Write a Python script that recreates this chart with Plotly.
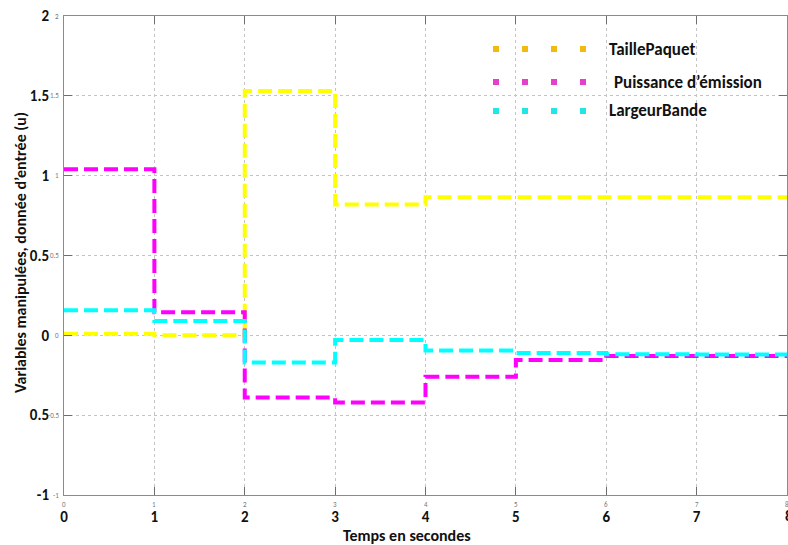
import plotly.graph_objects as go

# ---- data ----
time_s = [0, 1, 2, 3, 4, 5, 6, 7, 8]
taille_paquet = [0.01, 0.0, 1.53, 0.82, 0.865, 0.865, 0.865, 0.865]
puissance = [1.04, 0.145, -0.39, -0.42, -0.26, -0.155, -0.13, -0.13]
largeur_bande = [0.157, 0.09, -0.17, -0.03, -0.095, -0.11, -0.118, -0.12]

series_names = ["TaillePaquet", "Puissance d\u2019émission", "LargeurBande"]
line_colors = ["#ffff00", "#ff00ff", "#00ffff"]
legend_colors = ["#f2b90f", "#e63fc8", "#22e6e6"]

y_tickvals = [-1, -0.5, 0, 0.5, 1, 1.5, 2]
y_ticktext = ["-1", "0.5", "0", "0.5", "1", "1.5", "2"]
y_small_text = ["-1", "-0.5", "0", "0.5", "1", "1.5", "2"]
x_tickvals = [0, 1, 2, 3, 4, 5, 6, 7, 8]
x_ticktext = [str(v) for v in x_tickvals]

FONT = "Carlito, Lato, 'Liberation Sans', sans-serif"

W, H = 788, 545
L, R, T, B = 64, 1, 16, 50
pw, ph = W - L - R, H - T - B


def px_x(px):
    return (px - L) / pw


def px_y(py):
    return (H - B - py) / ph


fig = go.Figure()
for name, vals, col in zip(series_names, [taille_paquet, puissance, largeur_bande], line_colors):
    fig.add_trace(go.Scatter(
        x=time_s, y=vals + [vals[-1]], mode="lines", name=name,
        line=dict(color=col, width=4, dash="14px,6px", shape="hv"),
        showlegend=False,
    ))

axis_common = dict(
    showline=True, linecolor="#8a8a8a", linewidth=1, mirror="ticks",
    ticks="inside", ticklen=8, tickcolor="#6e6e6e", tickwidth=1,
    showgrid=True, gridcolor="#c4c4c4", griddash="dot", gridwidth=1,
    zeroline=False, automargin=False,
    tickfont=dict(family=FONT, size=15, color="#111111", weight="bold"),
)

fig.update_xaxes(range=[0, 8], tickmode="array", tickvals=x_tickvals, ticktext=x_ticktext,
                 ticklabelstandoff=8, **axis_common)
fig.update_yaxes(range=[-1, 2], tickmode="array", tickvals=y_tickvals, ticktext=y_ticktext,
                 ticklabelstandoff=11, **axis_common)

annotations = []
# tiny secondary tick labels
for v, t in zip(y_tickvals, y_small_text):
    annotations.append(dict(x=px_x(61), y=v, xref="paper", yref="y", text=t, showarrow=False,
                            xanchor="right", yanchor="middle",
                            font=dict(family=FONT, size=7, color="#777777")))
for v in x_tickvals:
    annotations.append(dict(x=v, y=px_y(498), xref="x", yref="paper", text=str(v), showarrow=False,
                            xanchor="center", yanchor="top",
                            font=dict(family=FONT, size=7, color="#777777")))
# last big x label (partly outside the figure, as in the reference)
annotations.append(dict(x=8, y=px_y(516), xref="x", yref="paper", text="<b>8</b>", showarrow=False,
                        xanchor="left", xshift=-4, yanchor="middle",
                        font=dict(family=FONT, size=15, color="#111111")))

# axis titles
annotations.append(dict(x=px_x(407), y=px_y(535), xref="paper", yref="paper", text="<b>Temps en secondes</b>",
                        showarrow=False, xanchor="center", yanchor="middle",
                        font=dict(family=FONT, size=16, color="#111111")))
annotations.append(dict(x=px_x(20), y=px_y(253), xref="paper", yref="paper",
                        text="<b>Variables manipulées, donnée d\u2019entrée (u)</b>",
                        showarrow=False, textangle=-90, xanchor="center", yanchor="middle",
                        font=dict(family=FONT, size=16, color="#111111")))

# custom legend
shapes = []
leg_y = [49, 82, 111]
leg_sq_x = [496, 525, 554, 583]
leg_text_x = [607, 612, 607]
for i, name in enumerate(series_names):
    for sx in leg_sq_x:
        shapes.append(dict(type="rect", xref="paper", yref="paper",
                           x0=px_x(sx - 3), x1=px_x(sx + 3), y0=px_y(leg_y[i] + 3), y1=px_y(leg_y[i] - 3),
                           fillcolor=legend_colors[i], line=dict(width=0)))
    annotations.append(dict(x=px_x(leg_text_x[i]), y=px_y(leg_y[i]), xref="paper", yref="paper",
                            text="<b>" + name + "</b>", showarrow=False, xanchor="left", yanchor="middle",
                            font=dict(family=FONT, size=17, color="#111111")))

fig.update_layout(
    width=W, height=H,
    margin=dict(l=L, r=R, t=T, b=B),
    paper_bgcolor="white", plot_bgcolor="white",
    annotations=annotations, shapes=shapes,
    showlegend=False,
)

fig.write_html("out.html", config={"displayModeBar": False},
               post_script="document.body.style.margin='0px';document.body.style.overflow='hidden';")
